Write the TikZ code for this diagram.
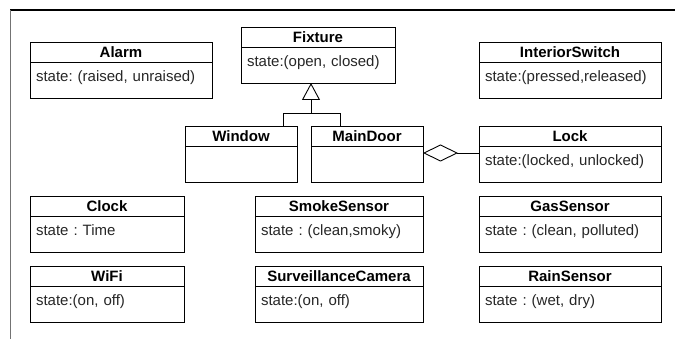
\documentclass[tikz,border=0pt]{standalone}
\usepackage{fontspec}
\setmainfont{Liberation Sans}
\usetikzlibrary{positioning,arrows.meta}

\begin{document}
\begin{tikzpicture}[x=1pt,y=-1pt,
		classname/.style={draw, line width=0.9pt, inner sep=0pt, outer sep=0pt, minimum height=20pt, text height=10.7pt, text depth=0pt, font=\fontsize{15}{18}\selectfont\bfseries},
		classattr/.style={draw, line width=0.9pt, inner xsep=6pt, inner ysep=4pt, outer sep=0pt, text height=15.5pt, text depth=12.5pt, align=left, text=black!85, font=\fontsize{15}{18}\selectfont\frenchspacing},
	]
	\useasboundingbox (0,0) rectangle (675,339);
	% Frame
	\draw[line width=1.2pt] (10,10) -- (675,10);
	\draw[black!55, line width=0.8pt] (10,10) -- (10,339);
	% Top row
	\node[classname, minimum width=182pt, anchor=north west] (alarm) at (30,42) {Alarm};
	\node[classattr, text width=170pt, below=0pt of alarm] (alarm-b) {state: (raised, unraised)};
	\node[classname, minimum width=154pt, anchor=north west] (fixture) at (241,27) {Fixture};
	\node[classattr, text width=142pt, below=0pt of fixture] (fixture-b) {state:(open, closed)};
	\node[classname, minimum width=182pt, anchor=north west] (switch) at (479,42) {InteriorSwitch};
	\node[classattr, text width=170pt, below=0pt of switch] (switch-b) {state:(pressed,released)};
	% Doors and windows
	\node[classname, minimum width=112pt, anchor=north west] (window) at (185,126) {Window};
	\node[classattr, text width=100pt, below=0pt of window] (window-b) {};
	\node[classname, minimum width=112pt, anchor=north west] (maindoor) at (311,126) {MainDoor};
	\node[classattr, text width=100pt, below=0pt of maindoor] (maindoor-b) {};
	\node[classname, minimum width=182pt, anchor=north west] (lock) at (479,126) {Lock};
	\node[classattr, text width=170pt, below=0pt of lock] (lock-b) {state:(locked, unlocked)};
	% Sensors and devices
	\node[classname, minimum width=154pt, anchor=north west] (clock) at (30,196) {Clock};
	\node[classattr, text width=142pt, below=0pt of clock] (clock-b) {state : Time};
	\node[classname, minimum width=154pt, anchor=north west] (wifi) at (30,266) {WiFi};
	\node[classattr, text width=142pt, below=0pt of wifi] (wifi-b) {state:(on, off)};
	\node[classname, minimum width=168pt, anchor=north west] (smoke) at (255,196) {SmokeSensor};
	\node[classattr, text width=156pt, below=0pt of smoke] (smoke-b) {state : (clean,smoky)};
	\node[classname, minimum width=168pt, anchor=north west] (camera) at (255,266) {SurveillanceCamera};
	\node[classattr, text width=156pt, below=0pt of camera] (camera-b) {state:(on, off)};
	\node[classname, minimum width=182pt, anchor=north west] (gas) at (479,196) {GasSensor};
	\node[classattr, text width=170pt, below=0pt of gas] (gas-b) {state : (clean, polluted)};
	\node[classname, minimum width=182pt, anchor=north west] (rain) at (479,266) {RainSensor};
	\node[classattr, text width=170pt, below=0pt of rain] (rain-b) {state : (wet, dry)};
	% Generalization
	\coordinate (fork) at ([xshift=-7pt,yshift=-30pt]fixture-b.south);
	\coordinate (winup) at ([xshift=-14pt]window.north east);
	\coordinate (doorup) at ([xshift=29pt]maindoor.north west);
	\draw[line width=0.9pt] (winup) |- (doorup |- fork) -- (doorup);
	\draw[line width=0.9pt, -{Triangle[open, length=17pt, width=18pt]}] (fork) -- (fork |- fixture-b.south);
	% Aggregation
	\coordinate (agg) at ([yshift=-7pt]maindoor-b.north east);
	\draw[line width=0.9pt, {Diamond[open, length=35pt, width=17pt]}-] (agg) -- (agg -| lock-b.west);
\end{tikzpicture}
\end{document}
